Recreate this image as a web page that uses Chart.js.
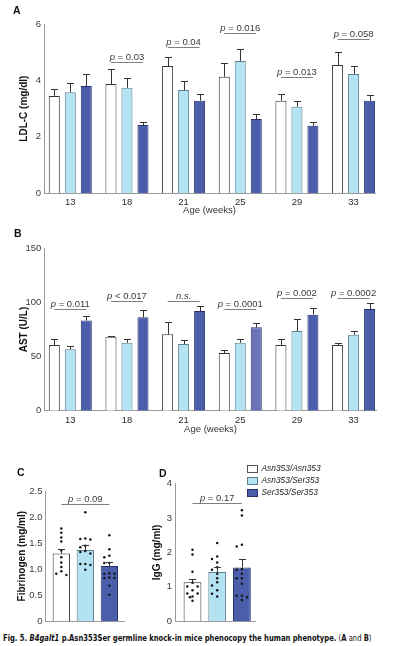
<!DOCTYPE html>
<html><head><meta charset="utf-8">
<script src="https://cdn.jsdelivr.net/npm/chart.js@4.4.1/dist/chart.umd.min.js"></script>
<style>
html,body{margin:0;padding:0;background:#fff}
body{width:394px;height:646px;position:relative;overflow:hidden;font-family:"Liberation Sans",Arial,sans-serif;color:#111}
canvas{position:absolute;display:block}
.pl{position:absolute;font-weight:bold;font-size:10.5px;line-height:12px;color:#111}
.lg{position:absolute;left:247px;font-size:8.4px;font-style:italic;color:#222;line-height:10px;white-space:nowrap}
.lg span.bx{position:absolute;left:0;top:1.5px;width:9px;height:6px;border:1px solid #555}
.lg span.tx{position:absolute;left:14.5px;top:0}
#cap{position:absolute;left:3px;top:632px;font-family:"Liberation Sans Narrow","DejaVu Sans Condensed","Liberation Sans",sans-serif;font-size:9.2px;line-height:12px;white-space:nowrap;transform-origin:0 0;color:#111}
</style></head><body>
<canvas id="cA" width="394" height="216" style="left:0;top:0"></canvas>
<canvas id="cB" width="394" height="216" style="left:0;top:220px"></canvas>
<canvas id="cC" width="135" height="160" style="left:0;top:470px"></canvas>
<canvas id="cD" width="130" height="160" style="left:140px;top:470px"></canvas>
<div class="pl" style="left:13px;top:4px">A</div>
<div class="pl" style="left:14px;top:227px">B</div>
<div class="pl" style="left:17px;top:466px">C</div>
<div class="pl" style="left:159px;top:467px">D</div>
<div class="lg" style="top:463px;width:90px;height:10px"><span class="bx" style="background:#fff"></span><span class="tx" id="lg0"></span></div>
<div class="lg" style="top:475px;width:90px;height:10px"><span class="bx" style="background:#b3e2f3;border-color:#5f7f8c"></span><span class="tx" id="lg1"></span></div>
<div class="lg" style="top:487px;width:90px;height:10px"><span class="bx" style="background:#4a5eac;border-color:#27306b"></span><span class="tx" id="lg2"></span></div>
<div id="cap"><b>Fig. 5. <i>B4galt1</i> p.Asn353Ser germline knock-in mice phenocopy the human phenotype.</b> (<b>A</b> and <b>B</b>)</div>
<script>
// ---------- data ----------
const ages = ['13', '18', '21', '25', '29', '33'];
const genotypes = ['Asn353/Asn353', 'Asn353/Ser353', 'Ser353/Ser353'];

// Panel A: LDL-C (mg/dl), mean and mean+SEM
const ldlWT     = [3.45, 3.87, 4.51, 4.13, 3.28, 4.55];
const ldlWTTop  = [3.70, 4.39, 4.82, 4.61, 3.52, 5.00];
const ldlHet    = [3.58, 3.74, 3.66, 4.69, 3.07, 4.23];
const ldlHetTop = [3.91, 4.07, 3.97, 5.10, 3.28, 4.51];
const ldlHom    = [3.80, 2.42, 3.28, 2.63, 2.39, 3.28];
const ldlHomTop = [4.22, 2.52, 3.52, 2.81, 2.52, 3.48];
const ldlPText  = ['', 'p = 0.03', 'p = 0.04', 'p = 0.016', 'p = 0.013', 'p = 0.058'];
const ldlPLevel = [null, 4.67, 5.20, 5.67, 4.11, 5.47];

// Panel B: AST (U/L)
const astWT     = [60.7, 68.4, 70.5, 53.3, 60.7, 60.7];
const astWTTop  = [66.2, 69.3, 81.9, 56.4, 66.2, 62.8];
const astHet    = [56.7, 62.8, 61.6, 62.8, 73.6, 70.2];
const astHetTop = [59.7, 66.5, 65.0, 66.5, 84.4, 73.6];
const astHom    = [83.2, 86.2, 92.1, 77.0, 88.7, 93.9];
const astHomTop = [87.5, 92.7, 96.7, 80.7, 94.5, 99.2];
const astPText  = ['p = 0.011', 'p < 0.017', 'n.s.', 'p = 0.0001', 'p = 0.002', 'p = 0.0002'];
const astPLevel = [93.6, 101.3, 101.3, 93.6, 104.4, 104.4];

// Panel C: Fibrinogen (mg/ml)
const fibMean = [1.30, 1.37, 1.06];
const fibTop  = [1.39, 1.46, 1.13];
const fibWTDots  = [1.78, 1.70, 1.61, 1.53, 1.36, 1.23, 1.13, 1.04, 0.96, 0.89, 0.91];
const fibHetDots = [2.09, 1.59, 1.57, 1.58, 1.45, 1.42, 1.33, 1.30, 1.35, 1.10, 1.08, 1.10, 0.99];
const fibHomDots = [1.65, 1.38, 1.26, 1.23, 1.12, 1.12, 0.91, 0.91, 0.92, 0.83, 0.83, 0.84, 0.68, 0.51];
const fibPText = 'p = 0.09';
const fibPLevel = 2.245;

// Panel D: IgG (mg/ml)
const iggMean = [1.13, 1.43, 1.56];
const iggTop  = [1.22, 1.57, 1.80];
const iggWTDots  = [2.08, 1.94, 1.44, 1.12, 1.01, 1.01, 0.90, 0.81, 0.81, 0.72, 0.60, 0.70];
const iggHetDots = [2.27, 1.88, 1.81, 1.71, 1.57, 1.50, 1.38, 1.25, 1.13, 1.04, 0.90, 0.80, 0.72];
const iggHomDots = [3.22, 3.07, 2.22, 2.17, 1.51, 1.50, 1.38, 1.25, 1.25, 1.09, 0.74, 0.74, 0.70, 0.62];
const iggPText = 'p = 0.17';
const iggPLevel = 3.42;

// ---------- styles ----------
const FAM = '"Liberation Sans", Arial, sans-serif';
const WT_FILL = '#ffffff', WT_LINE = '#333333';
const HET_FILL = '#b3e2f3', HET_LINE = '#5f7f8c';
const HOM_FILL = '#4a5eac', HOM_LINE = '#27306b';
const HOM_FILL_B = ['#4a5eac', '#4a5eac', '#4a5eac', '#6b73ba', '#4a5eac', '#4a5eac'];
const AXIS = '#9a9a9a';

['lg0','lg1','lg2'].forEach((id, i) => { document.getElementById(id).textContent = genotypes[i]; });

const errPlugin = {
  id: 'errBars',
  afterDatasetsDraw(chart) {
    const ctx = chart.ctx, ys = chart.scales.y;
    chart.data.datasets.forEach((ds, i) => {
      if (!ds.errTop) return;
      const meta = chart.getDatasetMeta(i);
      ctx.save();
      ctx.strokeStyle = '#333'; ctx.lineWidth = 1;
      meta.data.forEach((el, j) => {
        const top = Math.round(ys.getPixelForValue(ds.errTop[j])) + 0.5;
        const x = Math.round(el.x) + 0.5;
        ctx.beginPath();
        ctx.moveTo(x, el.y); ctx.lineTo(x, top);
        ctx.moveTo(x - 3.5, top); ctx.lineTo(x + 3.5, top);
        ctx.stroke();
      });
      ctx.restore();
    });
  }
};

function drawPText(ctx, text, cx, y) {
  const segs = text.charAt(0) === 'p' ? [['italic ', 'p'], ['', text.slice(1)]] : [['italic ', text]];
  const f = s => s + '9.5px ' + FAM;
  let w = 0;
  segs.forEach(s => { ctx.font = f(s[0]); w += ctx.measureText(s[1]).width; });
  let x = cx - w / 2;
  ctx.textAlign = 'left'; ctx.textBaseline = 'alphabetic'; ctx.fillStyle = '#3a3a3a';
  segs.forEach(s => { ctx.font = f(s[0]); ctx.fillText(s[1], x, y); x += ctx.measureText(s[1]).width; });
}

function makePPlugin(items) {
  return {
    id: 'pAnno',
    afterDatasetsDraw(chart) {
      const ctx = chart.ctx, ys = chart.scales.y;
      ctx.save();
      items.forEach(it => {
        if (!it.text || it.level == null) return;
        const xa = chart.getDatasetMeta(it.a[0]).data[it.a[1]].x;
        const xb = chart.getDatasetMeta(it.b[0]).data[it.b[1]].x;
        const yy = Math.round(ys.getPixelForValue(it.level)) + 0.5;
        ctx.strokeStyle = '#808080'; ctx.lineWidth = 1;
        ctx.beginPath(); ctx.moveTo(xa, yy); ctx.lineTo(xb, yy); ctx.stroke();
        drawPText(ctx, it.text, (xa + xb) / 2, yy - 3);
      });
      ctx.restore();
    }
  };
}

// spread dots of similar value sideways (max three columns)
function swarm(vals, g, dy, dx) {
  const placed = [];
  return vals.slice().sort((a, b) => b - a).map(v => {
    const cands = [0, -dx, dx, -dx / 2, dx / 2];
    for (const c of cands) {
      if (!placed.some(p => Math.abs(p.y - v) < dy && Math.abs(p.x - c) < dx * 0.45)) {
        placed.push({ x: c, y: v });
        return { x: g + c, y: v };
      }
    }
    placed.push({ x: 0, y: v });
    return { x: g, y: v };
  });
}

function yAxis(min, max, step, width, title, titlePad, cb) {
  return {
    type: 'linear', min, max,
    afterFit(s) { s.width = width; },
    grid: { display: false, drawTicks: false },
    border: { display: true, color: AXIS, width: 1 },
    ticks: { stepSize: step, color: '#3a3a3a', padding: 3, font: { size: 9.5, family: FAM }, callback: cb },
    title: { display: true, text: title, color: '#111', font: { size: 10, weight: 'bold', family: FAM }, padding: { top: titlePad, bottom: 0 } }
  };
}

function xAgeAxis(min, max, height, titlePadBottom) {
  return {
    type: 'linear', min, max, offset: false,
    afterFit(s) { s.height = height; },
    afterBuildTicks(s) { s.ticks = ages.map((a, i) => ({ value: i })); },
    grid: { display: false, drawTicks: false, offset: false },
    border: { display: true, color: AXIS, width: 1 },
    ticks: { autoSkip: false, maxRotation: 0, padding: 3.5, color: '#2a2a2a', font: { size: 9.5, family: FAM }, callback: (v, i) => ages[i] },
    title: { display: true, text: 'Age (weeks)', color: '#333', font: { size: 9.5, family: FAM }, padding: { top: 0, bottom: titlePadBottom } }
  };
}

function xGroupAxis(min, max) {
  return {
    type: 'linear', min, max, offset: false,
    afterFit(s) { s.height = 0; },
    afterBuildTicks(s) { s.ticks = genotypes.map((g, i) => ({ value: i })); },
    grid: { display: false, drawTicks: false, offset: false },
    border: { display: true, color: AXIS, width: 1 },
    ticks: { display: false }
  };
}

const pts = arr => arr.map((v, i) => ({ x: i, y: v }));

function ageBars(wt, wtTop, het, hetTop, hom, homTop, homFill) {
  const common = { borderWidth: 1, categoryPercentage: 0.847, barPercentage: 0.69 };
  return [
    Object.assign({ label: genotypes[0], data: pts(wt), errTop: wtTop, backgroundColor: WT_FILL, borderColor: WT_LINE }, common),
    Object.assign({ label: genotypes[1], data: pts(het), errTop: hetTop, backgroundColor: HET_FILL, borderColor: HET_LINE }, common),
    Object.assign({ label: genotypes[2], data: pts(hom), errTop: homTop, backgroundColor: homFill, borderColor: HOM_LINE }, common)
  ];
}

const baseOpts = {
  responsive: false, animation: false, devicePixelRatio: 1,
  plugins: { legend: { display: false }, tooltip: { enabled: false } }
};

// Panel A
new Chart(document.getElementById('cA'), {
  type: 'bar',
  data: { datasets: ageBars(ldlWT, ldlWTTop, ldlHet, ldlHetTop, ldlHom, ldlHomTop, HOM_FILL) },
  options: Object.assign({}, baseOpts, {
    layout: { padding: { left: 0, top: 24, right: 19, bottom: 0 } },
    scales: {
      x: xAgeAxis(-0.464, 5.378, 22.7, 0),
      y: yAxis(0, 6, 2, 44, 'LDL-C (mg/dl)', 18)
    }
  }),
  plugins: [errPlugin, makePPlugin(ages.map((a, j) => ({ text: ldlPText[j], level: ldlPLevel[j], a: [0, j], b: [2, j] })))]
});

// Panel B
new Chart(document.getElementById('cB'), {
  type: 'bar',
  data: { datasets: ageBars(astWT, astWTTop, astHet, astHetTop, astHom, astHomTop, HOM_FILL_B) },
  options: Object.assign({}, baseOpts, {
    layout: { padding: { left: 0, top: 28.3, right: 17.3, bottom: 0 } },
    scales: {
      x: xAgeAxis(-0.459, 5.408, 25.3, 0.5),
      y: yAxis(0, 150, 50, 44.3, 'AST (U/L)', 18)
    }
  }),
  plugins: [errPlugin, makePPlugin(ages.map((a, j) => ({ text: astPText[j], level: astPLevel[j], a: [0, j], b: [2, j] })))]
});

function dotPanel(id, mean, top, dotSets, yMax, step, width, title, titlePad, xMin, xMax, padding, pText, pLevel, cb) {
  const dots = [];
  dotSets.forEach((d, g) => swarm(d, g, yMax * 0.028, 0.21).forEach(p => dots.push(p)));
  new Chart(document.getElementById(id), {
    type: 'bar',
    data: {
      datasets: [
        { type: 'bar', order: 2, data: pts(mean), errTop: top, backgroundColor: [WT_FILL, HET_FILL, HOM_FILL], borderColor: [WT_LINE, HET_LINE, HOM_LINE], borderWidth: 1, categoryPercentage: 1, barPercentage: 0.72 },
        { type: 'scatter', order: 1, data: dots, pointRadius: 1.25, pointBackgroundColor: '#151515', pointBorderWidth: 0, showLine: false }
      ]
    },
    options: Object.assign({}, baseOpts, {
      layout: { padding: padding },
      scales: { x: xGroupAxis(xMin, xMax), y: yAxis(0, yMax, step, width, title, titlePad, cb) }
    }),
    plugins: [errPlugin, makePPlugin([{ text: pText, level: pLevel, a: [0, 0], b: [0, 2] }])]
  });
}

dotPanel('cC', fibMean, fibTop, [fibWTDots, fibHetDots, fibHomDots], 2.5, 0.5, 45.5, 'Fibrinogen (mg/ml)', 16.5,
  -0.658, 2.61, { left: 0, top: 21, right: 11, bottom: 3.5 }, fibPText, fibPLevel, v => (v === 0 ? '0' : v.toFixed(1)));
dotPanel('cD', iggMean, iggTop, [iggWTDots, iggHetDots, iggHomDots], 4, 1, 35, 'IgG (mg/ml)', 11,
  -0.708, 2.53, { left: 0, top: 13.5, right: 15, bottom: 4 }, iggPText, iggPLevel, v => String(v));

// fit caption to its printed width
const cap = document.getElementById('cap');
const w = cap.getBoundingClientRect().width;
cap.style.transform = 'scaleX(' + (368.5 / w) + ')';
</script>
</body></html>
